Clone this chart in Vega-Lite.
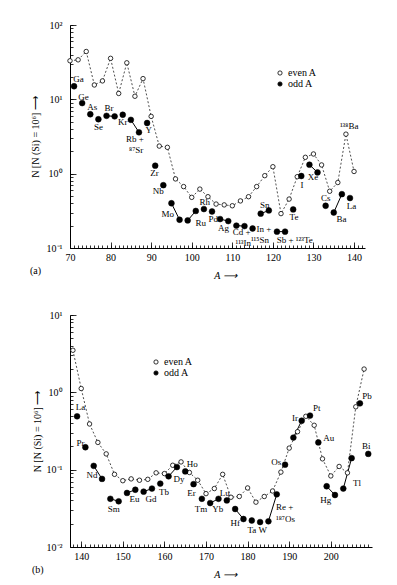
{
  "$schema": "https://vega.github.io/schema/vega-lite/v6.json",
  "background": "white",
  "padding": {"left": 30, "top": 20, "right": 5, "bottom": 5},
  "spacing": 30,
  "config": {
    "view": {"stroke": null},
    "font": "Liberation Serif",
    "axis": {"labelFont": "Liberation Serif", "titleFont": "Liberation Serif", "labelFontSize": 10, "titleFontSize": 10, "titleFontWeight": "normal", "domainColor": "black", "tickColor": "black", "labelColor": "black", "titleColor": "black", "grid": false, "labelFlush": false, "domainWidth": 1, "tickWidth": 0.8},
    "legend": {"labelFont": "Liberation Serif", "labelFontSize": 10, "labelColor": "black"},
    "title": {"font": "Liberation Serif", "fontSize": 10, "fontWeight": "normal", "color": "black"}
  },
  "resolve": {"scale": {"fill": "independent"}, "legend": {"fill": "independent"}},
  "datasets": {
    "a": [
      {"A": 70, "N": 33, "parity": "even A"},
      {"A": 72, "N": 34, "parity": "even A"},
      {"A": 74, "N": 44, "parity": "even A"},
      {"A": 76, "N": 15.6, "parity": "even A"},
      {"A": 78, "N": 17.7, "parity": "even A"},
      {"A": 80, "N": 35.6, "parity": "even A"},
      {"A": 82, "N": 12, "parity": "even A"},
      {"A": 84, "N": 31, "parity": "even A"},
      {"A": 86, "N": 11, "parity": "even A"},
      {"A": 88, "N": 19, "parity": "even A"},
      {"A": 90, "N": 5.9, "parity": "even A"},
      {"A": 92, "N": 2.35, "parity": "even A"},
      {"A": 94, "N": 2.26, "parity": "even A"},
      {"A": 96, "N": 0.85, "parity": "even A"},
      {"A": 98, "N": 0.67, "parity": "even A"},
      {"A": 100, "N": 0.48, "parity": "even A"},
      {"A": 102, "N": 0.62, "parity": "even A"},
      {"A": 104, "N": 0.49, "parity": "even A"},
      {"A": 106, "N": 0.39, "parity": "even A"},
      {"A": 108, "N": 0.38, "parity": "even A"},
      {"A": 110, "N": 0.37, "parity": "even A"},
      {"A": 112, "N": 0.43, "parity": "even A"},
      {"A": 114, "N": 0.49, "parity": "even A"},
      {"A": 116, "N": 0.67, "parity": "even A"},
      {"A": 118, "N": 0.94, "parity": "even A"},
      {"A": 120, "N": 1.24, "parity": "even A"},
      {"A": 122, "N": 0.29, "parity": "even A"},
      {"A": 124, "N": 0.455, "parity": "even A"},
      {"A": 126, "N": 0.91, "parity": "even A"},
      {"A": 128, "N": 1.66, "parity": "even A"},
      {"A": 130, "N": 1.84, "parity": "even A"},
      {"A": 132, "N": 1.31, "parity": "even A"},
      {"A": 134, "N": 0.58, "parity": "even A"},
      {"A": 136, "N": 0.76, "parity": "even A"},
      {"A": 138, "N": 3.4, "parity": "even A"},
      {"A": 140, "N": 1.07, "parity": "even A"},
      {"A": 71, "N": 15, "parity": "odd A"},
      {"A": 73, "N": 8.9, "parity": "odd A"},
      {"A": 75, "N": 6.3, "parity": "odd A"},
      {"A": 77, "N": 5.4, "parity": "odd A"},
      {"A": 79, "N": 6.0, "parity": "odd A", "pair": "Br"},
      {"A": 81, "N": 5.9, "parity": "odd A", "pair": "Br"},
      {"A": 83, "N": 6.2, "parity": "odd A"},
      {"A": 85, "N": 5.3, "parity": "odd A", "pair": "Rb"},
      {"A": 87, "N": 3.6, "parity": "odd A", "pair": "Rb"},
      {"A": 89, "N": 4.8, "parity": "odd A"},
      {"A": 91, "N": 1.28, "parity": "odd A"},
      {"A": 93, "N": 0.70, "parity": "odd A"},
      {"A": 95, "N": 0.40, "parity": "odd A", "pair": "Mo"},
      {"A": 97, "N": 0.24, "parity": "odd A", "pair": "Mo"},
      {"A": 99, "N": 0.235, "parity": "odd A", "pair": "Ru"},
      {"A": 101, "N": 0.315, "parity": "odd A", "pair": "Ru"},
      {"A": 103, "N": 0.334, "parity": "odd A"},
      {"A": 105, "N": 0.31, "parity": "odd A"},
      {"A": 107, "N": 0.245, "parity": "odd A", "pair": "Ag"},
      {"A": 109, "N": 0.23, "parity": "odd A", "pair": "Ag"},
      {"A": 111, "N": 0.20, "parity": "odd A", "pair": "Cd"},
      {"A": 113, "N": 0.197, "parity": "odd A", "pair": "Cd"},
      {"A": 115, "N": 0.183, "parity": "odd A"},
      {"A": 117, "N": 0.29, "parity": "odd A", "pair": "Sn"},
      {"A": 119, "N": 0.32, "parity": "odd A", "pair": "Sn"},
      {"A": 121, "N": 0.166, "parity": "odd A", "pair": "Sb"},
      {"A": 123, "N": 0.166, "parity": "odd A", "pair": "Sb"},
      {"A": 125, "N": 0.33, "parity": "odd A"},
      {"A": 127, "N": 0.93, "parity": "odd A"},
      {"A": 129, "N": 1.32, "parity": "odd A", "pair": "Xe"},
      {"A": 131, "N": 1.04, "parity": "odd A", "pair": "Xe"},
      {"A": 133, "N": 0.37, "parity": "odd A"},
      {"A": 135, "N": 0.30, "parity": "odd A", "pair": "Ba"},
      {"A": 137, "N": 0.53, "parity": "odd A", "pair": "Ba"},
      {"A": 139, "N": 0.47, "parity": "odd A"}
    ],
    "alab": [
      {"A": 72.1, "N": 18.8, "text": "Ga"},
      {"A": 73.3, "N": 10.8, "text": "Ge"},
      {"A": 75.5, "N": 7.8, "text": "As"},
      {"A": 77.0, "N": 4.2, "text": "Se"},
      {"A": 79.6, "N": 7.6, "text": "Br"},
      {"A": 83.0, "N": 4.9, "text": "Kr"},
      {"A": 86.0, "N": 2.97, "text": "Rb +"},
      {"A": 86.3, "N": 2.1, "text": "⁸⁷Sr"},
      {"A": 89.4, "N": 3.9, "text": "Y"},
      {"A": 90.8, "N": 1.01, "text": "Zr"},
      {"A": 91.75, "N": 0.59, "text": "Nb"},
      {"A": 94.1, "N": 0.29, "text": "Mo"},
      {"A": 102.2, "N": 0.216, "text": "Ru"},
      {"A": 103.2, "N": 0.42, "text": "Rh"},
      {"A": 105.3, "N": 0.245, "text": "Pd"},
      {"A": 107.8, "N": 0.187, "text": "Ag"},
      {"A": 112.3, "N": 0.164, "text": "Cd +"},
      {"A": 112.7, "N": 0.117, "text": "¹¹³In"},
      {"A": 117.8, "N": 0.18, "text": "In +"},
      {"A": 116.8, "N": 0.128, "text": "¹¹⁵Sn"},
      {"A": 118.0, "N": 0.378, "text": "Sn"},
      {"A": 125.4, "N": 0.13, "text": "Sb + ¹²³Te"},
      {"A": 125.2, "N": 0.263, "text": "Te"},
      {"A": 127.2, "N": 0.70, "text": "I"},
      {"A": 129.9, "N": 0.89, "text": "Xe"},
      {"A": 133.0, "N": 0.466, "text": "Cs"},
      {"A": 136.9, "N": 0.245, "text": "Ba"},
      {"A": 139.4, "N": 0.37, "text": "La"},
      {"A": 138.8, "N": 4.4, "text": "¹³⁸Ba"}
    ],
    "b": [
      {"A": 138, "N": 3.5, "parity": "even A"},
      {"A": 140, "N": 1.12, "parity": "even A"},
      {"A": 142, "N": 0.39, "parity": "even A"},
      {"A": 144, "N": 0.225, "parity": "even A"},
      {"A": 146, "N": 0.16, "parity": "even A"},
      {"A": 148, "N": 0.087, "parity": "even A"},
      {"A": 150, "N": 0.072, "parity": "even A"},
      {"A": 152, "N": 0.076, "parity": "even A"},
      {"A": 154, "N": 0.073, "parity": "even A"},
      {"A": 156, "N": 0.075, "parity": "even A"},
      {"A": 158, "N": 0.091, "parity": "even A"},
      {"A": 160, "N": 0.089, "parity": "even A"},
      {"A": 162, "N": 0.114, "parity": "even A"},
      {"A": 164, "N": 0.126, "parity": "even A"},
      {"A": 166, "N": 0.092, "parity": "even A"},
      {"A": 168, "N": 0.073, "parity": "even A"},
      {"A": 170, "N": 0.049, "parity": "even A"},
      {"A": 172, "N": 0.057, "parity": "even A"},
      {"A": 174, "N": 0.087, "parity": "even A"},
      {"A": 176, "N": 0.044, "parity": "even A"},
      {"A": 178, "N": 0.045, "parity": "even A"},
      {"A": 180, "N": 0.058, "parity": "even A"},
      {"A": 182, "N": 0.038, "parity": "even A"},
      {"A": 184, "N": 0.045, "parity": "even A"},
      {"A": 186, "N": 0.053, "parity": "even A"},
      {"A": 188, "N": 0.093, "parity": "even A"},
      {"A": 190, "N": 0.19, "parity": "even A"},
      {"A": 192, "N": 0.31, "parity": "even A"},
      {"A": 194, "N": 0.49, "parity": "even A"},
      {"A": 196, "N": 0.375, "parity": "even A"},
      {"A": 198, "N": 0.138, "parity": "even A"},
      {"A": 200, "N": 0.083, "parity": "even A"},
      {"A": 202, "N": 0.11, "parity": "even A"},
      {"A": 204, "N": 0.091, "parity": "even A"},
      {"A": 206, "N": 0.65, "parity": "even A"},
      {"A": 208, "N": 2.0, "parity": "even A"},
      {"A": 139, "N": 0.49, "parity": "odd A"},
      {"A": 141, "N": 0.195, "parity": "odd A"},
      {"A": 143, "N": 0.112, "parity": "odd A", "pair": "Nd"},
      {"A": 145, "N": 0.076, "parity": "odd A", "pair": "Nd"},
      {"A": 147, "N": 0.042, "parity": "odd A", "pair": "Sm"},
      {"A": 149, "N": 0.039, "parity": "odd A", "pair": "Sm"},
      {"A": 151, "N": 0.050, "parity": "odd A", "pair": "Eu"},
      {"A": 153, "N": 0.055, "parity": "odd A", "pair": "Eu"},
      {"A": 155, "N": 0.052, "parity": "odd A", "pair": "Gd"},
      {"A": 157, "N": 0.057, "parity": "odd A", "pair": "Gd"},
      {"A": 159, "N": 0.066, "parity": "odd A"},
      {"A": 161, "N": 0.082, "parity": "odd A", "pair": "Dy"},
      {"A": 163, "N": 0.108, "parity": "odd A", "pair": "Dy"},
      {"A": 165, "N": 0.095, "parity": "odd A"},
      {"A": 167, "N": 0.065, "parity": "odd A"},
      {"A": 169, "N": 0.042, "parity": "odd A"},
      {"A": 171, "N": 0.037, "parity": "odd A", "pair": "Yb"},
      {"A": 173, "N": 0.042, "parity": "odd A", "pair": "Yb"},
      {"A": 175, "N": 0.040, "parity": "odd A"},
      {"A": 177, "N": 0.031, "parity": "odd A", "pair": "Hf"},
      {"A": 179, "N": 0.023, "parity": "odd A", "pair": "Hf"},
      {"A": 181, "N": 0.022, "parity": "odd A"},
      {"A": 183, "N": 0.021, "parity": "odd A"},
      {"A": 185, "N": 0.0215, "parity": "odd A", "pair": "Re"},
      {"A": 187, "N": 0.048, "parity": "odd A", "pair": "Re"},
      {"A": 189, "N": 0.116, "parity": "odd A"},
      {"A": 191, "N": 0.26, "parity": "odd A", "pair": "Ir"},
      {"A": 193, "N": 0.43, "parity": "odd A", "pair": "Ir"},
      {"A": 195, "N": 0.50, "parity": "odd A"},
      {"A": 197, "N": 0.225, "parity": "odd A"},
      {"A": 199, "N": 0.061, "parity": "odd A", "pair": "Hg"},
      {"A": 201, "N": 0.047, "parity": "odd A", "pair": "Hg"},
      {"A": 203, "N": 0.057, "parity": "odd A", "pair": "Tl"},
      {"A": 205, "N": 0.141, "parity": "odd A", "pair": "Tl"},
      {"A": 207, "N": 0.72, "parity": "odd A"},
      {"A": 209, "N": 0.16, "parity": "odd A"}
    ],
    "blab": [
      {"A": 139.8, "N": 0.64, "text": "La"},
      {"A": 139.8, "N": 0.224, "text": "Pr"},
      {"A": 142.6, "N": 0.0846, "text": "Nd"},
      {"A": 147.8, "N": 0.0307, "text": "Sm"},
      {"A": 152.8, "N": 0.0414, "text": "Eu"},
      {"A": 156.8, "N": 0.0423, "text": "Gd"},
      {"A": 159.9, "N": 0.0514, "text": "Tb"},
      {"A": 163.5, "N": 0.075, "text": "Dy"},
      {"A": 166.7, "N": 0.1186, "text": "Ho"},
      {"A": 166.5, "N": 0.0505, "text": "Er"},
      {"A": 168.8, "N": 0.031, "text": "Tm"},
      {"A": 172.8, "N": 0.031, "text": "Yb"},
      {"A": 174.5, "N": 0.0505, "text": "Lu"},
      {"A": 177.0, "N": 0.0207, "text": "Hf"},
      {"A": 182.3, "N": 0.0164, "text": "Ta W"},
      {"A": 188.9, "N": 0.0325, "text": "Re +"},
      {"A": 189.1, "N": 0.0229, "text": "¹⁸⁷Os"},
      {"A": 186.9, "N": 0.126, "text": "Os"},
      {"A": 191.4, "N": 0.459, "text": "Ir"},
      {"A": 196.6, "N": 0.624, "text": "Pt"},
      {"A": 199.5, "N": 0.26, "text": "Au"},
      {"A": 198.8, "N": 0.040, "text": "Hg"},
      {"A": 206.3, "N": 0.068, "text": "Tl"},
      {"A": 208.5, "N": 0.203, "text": "Bi"},
      {"A": 208.7, "N": 0.885, "text": "Pb"}
    ]
  },
  "vconcat": [
    {
      "width": 295,
      "height": 223,
      "title": {"text": "(a)", "orient": "bottom", "anchor": "start", "frame": "bounds", "offset": -14},
      "resolve": {"axis": {"x": "independent", "y": "independent"}},
      "layer": [
        {
          "data": {"name": "a"},
          "transform": [{"filter": "datum.parity === 'even A'"}],
          "mark": {"type": "line", "strokeDash": [2, 2], "strokeWidth": 0.8, "color": "#222"},
          "encoding": {
            "x": {"field": "A", "type": "quantitative", "scale": {"domain": [70, 142.7], "nice": false, "zero": false},
              "axis": {"orient": "bottom", "values": [70, 80, 90, 100, 110, 120, 130, 140], "tickSize": -6, "labelPadding": 10, "title": "A ⟶", "titleFontStyle": "italic", "titlePadding": 8, "titleX": 155}},
            "y": {"field": "N", "type": "quantitative", "scale": {"type": "log", "domain": [0.1, 100], "nice": false},
              "axis": {"orient": "left", "values": [0.1, 1, 10, 100], "tickSize": -6, "labelPadding": 14, "labelExpr": "datum.value === 100 ? '10²' : datum.value === 10 ? '10¹' : datum.value === 1 ? '10⁰' : '10⁻¹'", "title": "N [N (Si) = 10⁶] ⟶", "titlePadding": 6}}
          }
        },
        {
          "data": {"name": "a"},
          "transform": [{"filter": "isValid(datum.pair)"}],
          "mark": {"type": "line", "strokeWidth": 1, "color": "black"},
          "encoding": {
            "detail": {"field": "pair"},
            "x": {"field": "A", "type": "quantitative", "scale": {"domain": [70, 142.7], "nice": false, "zero": false},
              "axis": {"orient": "bottom", "values": [70,71,72,73,74,75,76,77,78,79,80,81,82,83,84,85,86,87,88,89,90,91,92,93,94,95,96,97,98,99,100,101,102,103,104,105,106,107,108,109,110,111,112,113,114,115,116,117,118,119,120,121,122,123,124,125,126,127,128,129,130,131,132,133,134,135,136,137,138,139,140,141,142], "tickSize": -3, "labels": false, "domain": false, "title": null}},
            "y": {"field": "N", "type": "quantitative", "scale": {"type": "log", "domain": [0.1, 100], "nice": false},
              "axis": {"orient": "left", "values": [0.1,0.2,0.3,0.4,0.5,0.6,0.7,0.8,0.9,1,2,3,4,5,6,7,8,9,10,20,30,40,50,60,70,80,90,100], "tickSize": -3, "labels": false, "domain": false, "title": null}}
          }
        },
        {
          "data": {"name": "a"},
          "transform": [{"filter": "datum.parity === 'even A'"}],
          "mark": {"type": "point", "shape": "circle", "filled": true, "stroke": "black", "strokeWidth": 0.8, "opacity": 1, "size": 20},
          "encoding": {
            "x": {"field": "A", "type": "quantitative", "scale": {"domain": [70, 142.7], "nice": false, "zero": false}, "axis": null},
            "y": {"field": "N", "type": "quantitative", "scale": {"type": "log", "domain": [0.1, 100], "nice": false}, "axis": null},
            "fill": {"field": "parity", "type": "nominal", "scale": {"domain": ["even A", "odd A"], "range": ["white", "black"]},
              "legend": {"orient": "none", "legendX": 205, "legendY": 43, "title": null, "symbolType": "circle", "symbolSize": 18, "symbolStrokeColor": "black", "symbolStrokeWidth": 0.8, "rowPadding": 1, "labelOffset": 3}}
          }
        },
        {
          "data": {"name": "a"},
          "transform": [{"filter": "datum.parity === 'odd A'"}],
          "mark": {"type": "point", "shape": "circle", "filled": true, "stroke": "black", "strokeWidth": 0.5, "opacity": 1, "size": 34},
          "encoding": {
            "x": {"field": "A", "type": "quantitative", "scale": {"domain": [70, 142.7], "nice": false, "zero": false}, "axis": null},
            "y": {"field": "N", "type": "quantitative", "scale": {"type": "log", "domain": [0.1, 100], "nice": false}, "axis": null},
            "fill": {"field": "parity", "type": "nominal", "scale": {"domain": ["even A", "odd A"], "range": ["white", "black"]}}
          }
        },
        {
          "data": {"name": "alab"},
          "mark": {"type": "text", "font": "Liberation Serif", "fontSize": 9, "align": "center", "baseline": "middle", "color": "black"},
          "encoding": {
            "x": {"field": "A", "type": "quantitative", "scale": {"domain": [70, 142.7], "nice": false, "zero": false}, "axis": null},
            "y": {"field": "N", "type": "quantitative", "scale": {"type": "log", "domain": [0.1, 100], "nice": false}, "axis": null},
            "text": {"field": "text"}
          }
        }
      ]
    },
    {
      "width": 302,
      "height": 232,
      "title": {"text": "(b)", "orient": "bottom", "anchor": "start", "frame": "bounds", "offset": -14},
      "resolve": {"axis": {"x": "independent", "y": "independent"}},
      "layer": [
        {
          "data": {"name": "b"},
          "transform": [{"filter": "datum.parity === 'even A'"}],
          "mark": {"type": "line", "strokeDash": [2, 2], "strokeWidth": 0.8, "color": "#222"},
          "encoding": {
            "x": {"field": "A", "type": "quantitative", "scale": {"domain": [137.3, 209.9], "nice": false, "zero": false},
              "axis": {"orient": "bottom", "values": [140, 150, 160, 170, 180, 190, 200], "tickSize": -6, "labelPadding": 10, "title": "A ⟶", "titleFontStyle": "italic", "titlePadding": 8, "titleX": 155}},
            "y": {"field": "N", "type": "quantitative", "scale": {"type": "log", "domain": [0.01, 10], "nice": false},
              "axis": {"orient": "left", "values": [0.01, 0.1, 1, 10], "tickSize": -6, "labelPadding": 14, "labelExpr": "datum.value === 10 ? '10¹' : datum.value === 1 ? '10⁰' : datum.value === 0.1 ? '10⁻¹' : '10⁻²'", "title": "N [N (Si) = 10⁶] ⟶", "titlePadding": 4}}
          }
        },
        {
          "data": {"name": "b"},
          "transform": [{"filter": "isValid(datum.pair)"}],
          "mark": {"type": "line", "strokeWidth": 1, "color": "black"},
          "encoding": {
            "detail": {"field": "pair"},
            "x": {"field": "A", "type": "quantitative", "scale": {"domain": [137.3, 209.9], "nice": false, "zero": false},
              "axis": {"orient": "bottom", "values": [138,139,140,141,142,143,144,145,146,147,148,149,150,151,152,153,154,155,156,157,158,159,160,161,162,163,164,165,166,167,168,169,170,171,172,173,174,175,176,177,178,179,180,181,182,183,184,185,186,187,188,189,190,191,192,193,194,195,196,197,198,199,200,201,202,203,204,205,206,207,208,209], "tickSize": -3, "labels": false, "domain": false, "title": null}},
            "y": {"field": "N", "type": "quantitative", "scale": {"type": "log", "domain": [0.01, 10], "nice": false},
              "axis": {"orient": "left", "values": [0.01,0.02,0.03,0.04,0.05,0.06,0.07,0.08,0.09,0.1,0.2,0.3,0.4,0.5,0.6,0.7,0.8,0.9,1,2,3,4,5,6,7,8,9,10], "tickSize": -3, "labels": false, "domain": false, "title": null}}
          }
        },
        {
          "data": {"name": "b"},
          "transform": [{"filter": "datum.parity === 'even A'"}],
          "mark": {"type": "point", "shape": "circle", "filled": true, "stroke": "black", "strokeWidth": 0.8, "opacity": 1, "size": 20},
          "encoding": {
            "x": {"field": "A", "type": "quantitative", "scale": {"domain": [137.3, 209.9], "nice": false, "zero": false}, "axis": null},
            "y": {"field": "N", "type": "quantitative", "scale": {"type": "log", "domain": [0.01, 10], "nice": false}, "axis": null},
            "fill": {"field": "parity", "type": "nominal", "scale": {"domain": ["even A", "odd A"], "range": ["white", "black"]},
              "legend": {"orient": "none", "legendX": 81, "legendY": 42, "title": null, "symbolType": "circle", "symbolSize": 18, "symbolStrokeColor": "black", "symbolStrokeWidth": 0.8, "rowPadding": 1, "labelOffset": 3}}
          }
        },
        {
          "data": {"name": "b"},
          "transform": [{"filter": "datum.parity === 'odd A'"}],
          "mark": {"type": "point", "shape": "circle", "filled": true, "stroke": "black", "strokeWidth": 0.5, "opacity": 1, "size": 34},
          "encoding": {
            "x": {"field": "A", "type": "quantitative", "scale": {"domain": [137.3, 209.9], "nice": false, "zero": false}, "axis": null},
            "y": {"field": "N", "type": "quantitative", "scale": {"type": "log", "domain": [0.01, 10], "nice": false}, "axis": null},
            "fill": {"field": "parity", "type": "nominal", "scale": {"domain": ["even A", "odd A"], "range": ["white", "black"]}}
          }
        },
        {
          "data": {"name": "blab"},
          "mark": {"type": "text", "font": "Liberation Serif", "fontSize": 9, "align": "center", "baseline": "middle", "color": "black"},
          "encoding": {
            "x": {"field": "A", "type": "quantitative", "scale": {"domain": [137.3, 209.9], "nice": false, "zero": false}, "axis": null},
            "y": {"field": "N", "type": "quantitative", "scale": {"type": "log", "domain": [0.01, 10], "nice": false}, "axis": null},
            "text": {"field": "text"}
          }
        }
      ]
    }
  ]
}
